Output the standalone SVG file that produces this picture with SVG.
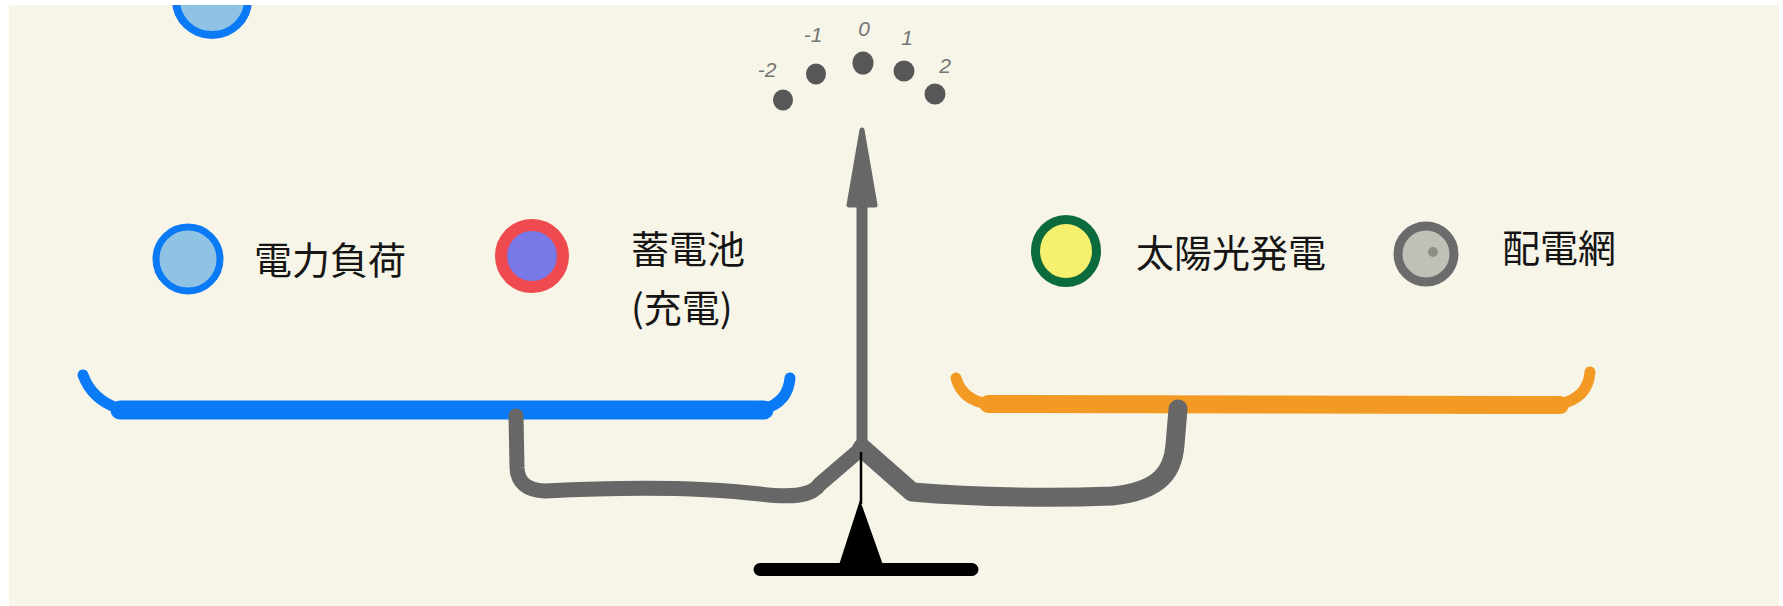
<svg xmlns="http://www.w3.org/2000/svg" width="1783" height="606" viewBox="0 0 1783 606">
  <style>
    .label { font-family: "Noto Sans CJK JP", "Noto Sans", sans-serif; font-size: 38px; fill: #151515; }
    .tick { font-family: "Liberation Sans", "DejaVu Sans", sans-serif; font-size: 21px; fill: #747474; text-anchor: middle; font-style: italic; }
    .dot { fill: #575757; }
    .wire { fill: none; stroke: #676767; stroke-linecap: round; stroke-linejoin: round; }
    .pan { fill: none; stroke-linecap: round; stroke-linejoin: round; }
  </style>

  <!-- paper -->
  <rect x="0" y="0" width="1783" height="606" fill="#ffffff"/>
  <rect x="9" y="5" width="1770" height="601" fill="#f7f4e8"/>

  <!-- partly visible marker at the top edge -->
  <g id="top-marker">
    <ellipse cx="212" cy="0" rx="36" ry="35" fill="#8fc3e6" stroke="#0a7af6" stroke-width="8"/>
    <ellipse cx="342" cy="2" rx="6" ry="3" fill="#8a8a8a"/>
  </g>
  <rect x="0" y="0" width="1783" height="5" fill="#ffffff"/>

  <!-- dial scale -->
  <g id="dial">
    <ellipse class="dot" cx="783" cy="100" rx="10" ry="10.5"/>
    <ellipse class="dot" cx="816" cy="74" rx="10" ry="10.5"/>
    <ellipse class="dot" cx="863" cy="63" rx="10.5" ry="11.5"/>
    <ellipse class="dot" cx="904" cy="71" rx="10.5" ry="10.5"/>
    <ellipse class="dot" cx="935" cy="94" rx="10.5" ry="10.5"/>
    <text class="tick" x="767" y="77" font-size="17">-2</text>
    <text class="tick" x="813" y="42">-1</text>
    <text class="tick" x="864" y="36">0</text>
    <text class="tick" x="907" y="45" font-size="19">1</text>
    <text class="tick" x="945" y="73" font-size="19">2</text>
  </g>

  <!-- legend -->
  <g id="load">
    <circle cx="188" cy="259" r="32" fill="#8fc3e6" stroke="#0a7af6" stroke-width="7"/>
    <text class="label" x="254" y="274">電力負荷</text>
  </g>
  <g id="battery">
    <circle cx="532" cy="256" r="31" fill="#7878e6" stroke="#ef4a50" stroke-width="12"/>
    <text class="label" x="631" y="263">蓄電池</text>
    <text class="label" x="631" y="322">(充電)</text>
  </g>
  <g id="solar">
    <ellipse cx="1066" cy="251" rx="30.5" ry="31.5" fill="#f5f06e" stroke="#0c6b3c" stroke-width="9"/>
    <text class="label" x="1136" y="267">太陽光発電</text>
  </g>
  <g id="grid">
    <circle cx="1426" cy="254" r="28" fill="#c1c0b7" stroke="#6b6b6b" stroke-width="9"/>
    <circle cx="1433" cy="252" r="5" fill="#8e8e88"/>
    <text class="label" x="1502" y="262">配電網</text>
  </g>

  <!-- scale pans -->
  <g id="pan-left">
    <path class="pan" d="M 83 375 Q 92 400 120 409" stroke="#0a7af6" stroke-width="11"/>
    <path class="pan" d="M 120 410 L 764 410" stroke="#0a7af6" stroke-width="19"/>
    <path class="pan" d="M 764 409 Q 788 402 790 378" stroke="#0a7af6" stroke-width="11"/>
  </g>
  <g id="pan-right">
    <path class="pan" d="M 956 378 Q 962 400 988 404" stroke="#f39a24" stroke-width="11"/>
    <path class="pan" d="M 988 404 L 1560 405" stroke="#f39a24" stroke-width="18"/>
    <path class="pan" d="M 1560 404 Q 1588 398 1590 372" stroke="#f39a24" stroke-width="11"/>
  </g>

  <!-- beam, pointer and stand -->
  <g id="connectors">
    <path class="wire" d="M 516 416 L 517 468 Q 518 490 545 491 C 620 487 700 487 760 494 C 792 498 812 496 820 484 L 862 448" stroke-width="15"/>
    <path class="wire" d="M 862 448 L 912 492 C 980 498 1060 498 1112 496 C 1162 491 1173 470 1175 445 L 1178 409" stroke-width="19"/>
    <path class="wire" d="M 862 448 L 862 200" stroke-width="11"/>
    <polygon points="862,130 849,205 875,205" fill="#676767" stroke="#676767" stroke-width="5" stroke-linejoin="round"/>
  </g>

  <g id="stand">
    <line x1="861" y1="452" x2="861" y2="504" stroke="#000" stroke-width="2.5"/>
    <polygon points="860,500 839,565 883,565" fill="#000"/>
    <line x1="760" y1="569.5" x2="972" y2="569.5" stroke="#000" stroke-width="13" stroke-linecap="round"/>
  </g>
</svg>
